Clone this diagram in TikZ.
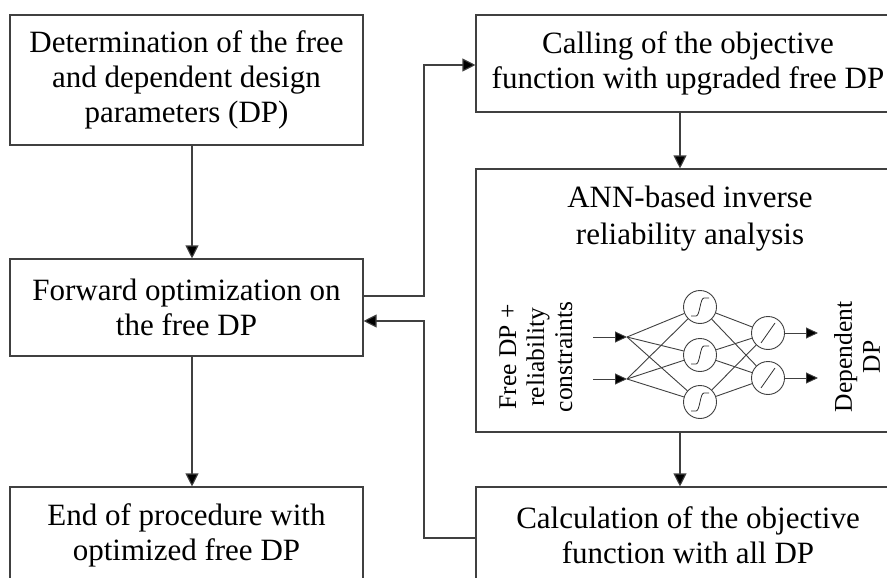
\documentclass[tikz,border=0pt]{standalone}
\usepackage{fontspec}
\setmainfont{Liberation Serif}
\usetikzlibrary{arrows.meta}

\tikzset{
  stepbox/.style={draw=black!75, line width=1.1pt, fill=white, inner sep=0pt,
    font=\fontsize{31}{35}\selectfont, align=center},
  flow/.style={draw=black!75, line width=1.1pt,
    -{Triangle[length=13pt,width=13pt,fill=black]}},
  link/.style={draw=black!75, line width=0.9pt},
  netarrow/.style={draw=black!75, line width=0.9pt,
    -{Triangle[length=12pt,width=11pt,fill=black]}},
  neuron/.style={circle, draw=black!75, line width=0.9pt, minimum size=33pt,
    inner sep=0pt, fill=white},
  sidetext/.style={rotate=90, align=center, inner sep=0pt,
    font=\fontsize{25.5}{28}\selectfont},
  sigmoid/.pic={\draw[black!80, line width=0.8pt]
      (-9,9) -- (-4,9) .. controls (0,9) and (0,-9) .. (4,-9) -- (9,-9);},
  linear/.pic={\draw[black!80, line width=0.8pt] (-7,10) -- (7,-10);}
}

\begin{document}
\begin{tikzpicture}[x=1pt, y=-1pt]
\useasboundingbox (0,0) rectangle (887,578);
\clip (0,0) rectangle (887,578);

% left column
\node[stepbox, minimum width=353pt, minimum height=130pt] (det) at (186.5,80)
  {Determination of the free\\and dependent design\\parameters (DP)};
\node[stepbox, minimum width=353pt, minimum height=97pt] (fwd) at (186.5,307.5)
  {Forward optimization on\\the free DP};
\node[stepbox, minimum width=353pt, minimum height=97pt] (fin) at (186.5,535.5)
  {End of procedure with\\optimized free DP};

% right column
\node[stepbox, minimum width=424pt, minimum height=97pt] (call) at (688,63.5)
  {Calling of the objective\\function with upgraded free DP};
\node[stepbox, minimum width=424pt, minimum height=263pt] (ann) at (688,300.5) {};
\node[font=\fontsize{31}{37}\selectfont, align=center, inner sep=0pt] (anntitle) at (690,219)
  {ANN-based inverse\\reliability analysis};
\node[stepbox, minimum width=424pt, minimum height=97pt] (calc) at (688,535.5)
  {Calculation of the objective\\function with all DP};

% main flow
\draw[flow] (det.south -| 192,0) -- (fwd.north -| 192,0);
\draw[flow] (fwd.south -| 192,0) -- (fin.north -| 192,0);
\draw[flow] (fwd.east |- 0,296) -- (424,296) -- (424,65) -- (call.west |- 0,65);
\draw[flow] (call.south -| 680,0) -- (ann.north -| 680,0);
\draw[flow] (ann.south -| 680,0) -- (calc.north -| 680,0);
\draw[flow] (calc.west |- 0,538) -- (424,538) -- (424,321) -- (fwd.east |- 0,321);

% network inside the ANN box
\node[sidetext] (inlabel) at (536,357) {Free DP +\\reliability\\constraints};
\node[sidetext] (outlabel) at (857,357) {Dependent\\DP};

\coordinate (s0) at (593,337);
\coordinate (s1) at (593,379);
\coordinate (i0) at (627,337);
\coordinate (i1) at (627,379);
\node[neuron] (h1) at (700,307) {};
\node[neuron] (h2) at (700,355) {};
\node[neuron] (h3) at (700,402) {};
\node[neuron] (o1) at (768,333) {};
\node[neuron] (o2) at (768,378) {};
\coordinate (e1) at (818,333);
\coordinate (e2) at (818,378);

\foreach \i in {i0,i1}
  \foreach \h in {h1,h2,h3}
    \draw[link] (\i) -- (\h);
\foreach \h in {h1,h2,h3}
  \foreach \o in {o1,o2}
    \draw[link] (\h) -- (\o);

\draw[netarrow] (s0) -- (i0);
\draw[netarrow] (s1) -- (i1);
\draw[netarrow] (o1) -- (e1);
\draw[netarrow] (o2) -- (e2);

\foreach \h in {h1,h2,h3}
  \pic at (\h) {sigmoid};
\foreach \o in {o1,o2}
  \pic at (\o) {linear};
\end{tikzpicture}
\end{document}
